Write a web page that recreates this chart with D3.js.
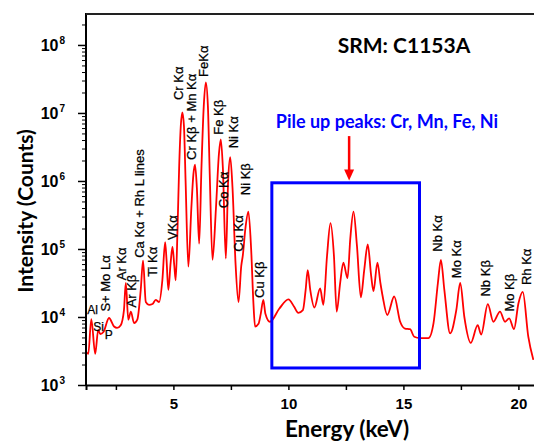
<!DOCTYPE html>
<html>
<head>
<meta charset="utf-8">
<script src="https://cdn.jsdelivr.net/npm/d3@7"></script>
<style>
  body { margin: 0; background: #fff; }
  text { font-family: "Liberation Sans", Arial, sans-serif; }
  .ttl { font-family: Lato, "Open Sans", sans-serif; font-weight: bold; }
</style>
</head>
<body>
<div id="chart"></div>
<script>
// spectrum (energy in keV, intensity in counts)
var energy = [1.2, 1.3, 1.43, 1.6, 1.73, 1.82, 1.96, 2.2, 2.42, 2.55, 2.71, 2.85, 2.93, 3.04, 3.15, 3.29, 3.43, 3.58, 3.68, 3.8,
  3.94, 4.09, 4.23, 4.38, 4.52, 4.64, 4.7, 4.78, 4.88, 4.96, 5.04, 5.1, 5.18, 5.25, 5.32, 5.39, 5.46, 5.53, 5.65, 5.78,
  5.87, 5.94, 6.02, 6.12, 6.22, 6.32, 6.41, 6.5, 6.58, 6.7, 6.85, 6.98, 7.06, 7.15, 7.28, 7.38, 7.47, 7.57, 7.7, 7.83,
  7.95, 8.02, 8.13, 8.26, 8.38, 8.48, 8.55, 8.7, 8.8, 8.91, 9.0, 9.2, 9.6, 10.0, 10.25, 10.43, 10.63, 10.75, 10.84, 10.95,
  11.13, 11.38, 11.52, 11.68, 11.83, 11.98, 12.1, 12.25, 12.39, 12.57, 12.69, 12.83, 12.98, 13.15, 13.3, 13.45, 13.6, 13.7, 13.87, 14.0,
  14.1, 14.3, 14.6, 14.86, 15.07, 15.29, 15.47, 15.73, 16.09, 16.31, 16.5, 16.63, 16.78, 17.03, 17.3, 17.47, 17.65, 17.93, 18.23, 18.38,
  18.67, 18.91, 19.2, 19.42, 19.6, 19.81, 20.0, 20.19, 20.43, 20.65];
var counts = [3090, 2880, 9330, 2880, 6460, 5620, 6030, 9660, 7240, 6920, 7590, 12600, 31600, 9120, 12000, 8130, 9120, 25100, 67600, 16600,
  15100, 15500, 17800, 16600, 34700, 126000, 70800, 25100, 63100, 107000, 56200, 34700, 200000, 1580000, 6310000, 10200000, 6310000, 1000000, 55000, 398000,
  1260000, 1740000, 794000, 120000, 1580000, 12600000, 28200000, 12600000, 1260000, 69200, 398000, 2510000, 4070000, 1580000, 72400, 1000000, 2240000, 794000, 63100, 16600,
  56200, 81300, 200000, 355000, 100000, 15800, 7240, 7940, 11200, 17800, 11200, 8510, 13200, 18200, 14100, 11500, 12600, 25100, 49000, 25100,
  13800, 26300, 15100, 79400, 240000, 79400, 12000, 31600, 63100, 37200, 141000, 355000, 112000, 19500, 50100, 117000, 39800, 24000, 63100, 31600,
  20000, 10700, 20000, 8510, 6760, 6610, 5130, 4900, 4900, 8130, 31600, 69200, 25100, 5750, 12600, 31600, 10000, 4170, 7590, 5500,
  15500, 8510, 12000, 8510, 9550, 6610, 15800, 23400, 5130, 2340];

var xTicks = [2.5, 5, 7.5, 10, 12.5, 15, 17.5, 20];
var xTickLabels = ["", "5", "", "10", "", "15", "", "20"];
var yExponents = [3, 4, 5, 6, 7, 8];

// peak labels: text, energy and count where the label starts
var vNames = ["S+ Mo L\u03b1", "Ar K\u03b1", "Ar K\u03b2", "Ca K\u03b1 + Rh L lines", "Ti K\u03b1", "VK\u03b1", "Cr K\u03b1",
  "Cr K\u03b2 + Mn K\u03b1", "FeK\u03b1", "Fe K\u03b2", "Ni K\u03b1", "Co K\u03b1", "Ni K\u03b2", "Cu K\u03b1", "Cu K\u03b2",
  "Nb K\u03b1", "Mo K\u03b1", "Nb K\u03b2", "Mo K\u03b2", "Rh K\u03b1"];
var vEnergy = [2.25, 2.94, 3.38, 3.7, 4.27, 5.14, 5.4, 5.97, 6.51, 7.16, 7.81, 7.38, 8.31, 8.03, 8.94, 16.68, 17.51, 18.75, 19.81, 20.55];
var vCounts = [12000, 34700, 13800, 74100, 38900, 135000, 15500000, 2040000, 33900000, 4790000, 3020000, 398000, 617000, 91200, 19100,
  91200, 37200, 20000, 12000, 29500];
var hNames = ["Al", "Si", "P"];
var hEnergy = [1.25, 1.51, 2.02];
var hCounts = [11000, 6170, 4790];

// pile-up box and arrow
var boxE = [9.28, 15.7];
var boxC = [1780, 940000];
var arrowE = 12.64;
var arrowC = [4570000, 1020000];

var width = 534, height = 444;
var x = d3.scaleLinear().domain([1.2, 20.7]).range([86, 534.5]);
var y = d3.scaleLog().domain([1e3, 2.95e8]).range([385, 13]);

var svg = d3.select("#chart").append("svg")
  .attr("width", width)
  .attr("height", height);

svg.append("defs").append("clipPath").attr("id", "plot")
  .append("rect").attr("x", 86).attr("y", 13).attr("width", 448).attr("height", 372);

// spectrum
var pts = energy.map(function(e, i) { return [e, counts[i]]; });
var line = d3.line()
  .x(function(d) { return x(d[0]); })
  .y(function(d) { return y(d[1]); })
  .curve(d3.curveMonotoneX);
svg.append("path")
  .datum(pts)
  .attr("clip-path", "url(#plot)")
  .attr("d", line)
  .attr("fill", "none")
  .attr("stroke", "#ff0000")
  .attr("stroke-width", 1.8);

// axes
var xAxis = d3.axisBottom(x).tickValues(xTicks).tickSize(5)
  .tickFormat(function(d, i) { return xTickLabels[i]; });
var gx = svg.append("g").attr("transform", "translate(0,385)").call(xAxis);
gx.select(".domain").attr("stroke-width", 2);
gx.selectAll(".tick line").attr("stroke-width", 1.5);
gx.selectAll("text").attr("font-size", 15).attr("font-weight", "bold").attr("dy", "1.05em");

var yMajor = yExponents.map(function(k) { return Math.pow(10, k); });
var yMinor = [];
yExponents.forEach(function(k) {
  for (var m = 2; m <= 9; m++) {
    var v = m * Math.pow(10, k);
    if (v <= 2.95e8) yMinor.push(v);
  }
});
var gyMinor = svg.append("g").attr("transform", "translate(86,0)")
  .call(d3.axisLeft(y).tickValues(yMinor).tickSize(4).tickFormat(""));
gyMinor.select(".domain").remove();
var gy = svg.append("g").attr("transform", "translate(86,0)")
  .call(d3.axisLeft(y).tickValues(yMajor).tickSize(8).tickFormat(""));
gy.select(".domain").attr("stroke-width", 2).attr("d", "M0,385V13");
gy.selectAll(".tick line").attr("stroke-width", 1.5);

var yl = svg.append("g").selectAll("text").data(yExponents).enter().append("text")
  .attr("x", 65).attr("y", function(k) { return y(Math.pow(10, k)) + 6; })
  .attr("text-anchor", "end").attr("font-size", 16).attr("font-weight", "bold");
yl.append("tspan").text("10");
yl.append("tspan").attr("font-size", 10).attr("dy", -7).attr("dx", 1).text(function(k) { return k; });

// top frame line
svg.append("line").attr("x1", 86).attr("x2", 534).attr("y1", 14).attr("y2", 14)
  .attr("stroke", "#222").attr("stroke-width", 2);

// axis titles
svg.append("text").attr("class", "ttl")
  .attr("transform", "translate(33,211) rotate(-90)")
  .attr("text-anchor", "middle").attr("font-size", 21)
  .text("Intensity (Counts)");
svg.append("text").attr("class", "ttl")
  .attr("x", 347).attr("y", 437).attr("text-anchor", "middle").attr("font-size", 22.5)
  .text("Energy (keV)");
svg.append("text").attr("class", "ttl")
  .attr("x", 404).attr("y", 53).attr("text-anchor", "middle").attr("font-size", 21)
  .text("SRM: C1153A");

// peak labels
svg.append("g").selectAll("text").data(vNames).enter().append("text")
  .attr("transform", function(d, i) {
    return "translate(" + x(vEnergy[i]) + "," + y(vCounts[i]) + ") rotate(-90)";
  })
  .attr("font-size", 13)
  .attr("stroke", "#000").attr("stroke-width", 0.25)
  .text(function(d) { return d; });
svg.append("g").selectAll("text").data(hNames).enter().append("text")
  .attr("x", function(d, i) { return x(hEnergy[i]); })
  .attr("y", function(d, i) { return y(hCounts[i]); })
  .attr("font-size", 12)
  .attr("stroke", "#000").attr("stroke-width", 0.25)
  .text(function(d) { return d; });

// pile-up box, arrow, note
svg.append("rect")
  .attr("x", x(boxE[0])).attr("y", y(boxC[1]))
  .attr("width", x(boxE[1]) - x(boxE[0])).attr("height", y(boxC[0]) - y(boxC[1]))
  .attr("fill", "none").attr("stroke", "#0000ff").attr("stroke-width", 3);

svg.append("line")
  .attr("x1", x(arrowE)).attr("x2", x(arrowE))
  .attr("y1", y(arrowC[0])).attr("y2", y(arrowC[1]) - 9)
  .attr("stroke", "#ff0000").attr("stroke-width", 2.5);
svg.append("path")
  .attr("d", "M" + (x(arrowE) - 5) + "," + (y(arrowC[1]) - 11) + "L" + (x(arrowE) + 5) + "," + (y(arrowC[1]) - 11) +
    "L" + x(arrowE) + "," + y(arrowC[1]) + "Z")
  .attr("fill", "#ff0000");

svg.append("text").attr("class", "ttl")
  .attr("x", 387).attr("y", 128).attr("text-anchor", "middle").attr("font-size", 18)
  .attr("fill", "#0000ff")
  .text("Pile up peaks: Cr, Mn, Fe, Ni");
</script>
</body>
</html>
